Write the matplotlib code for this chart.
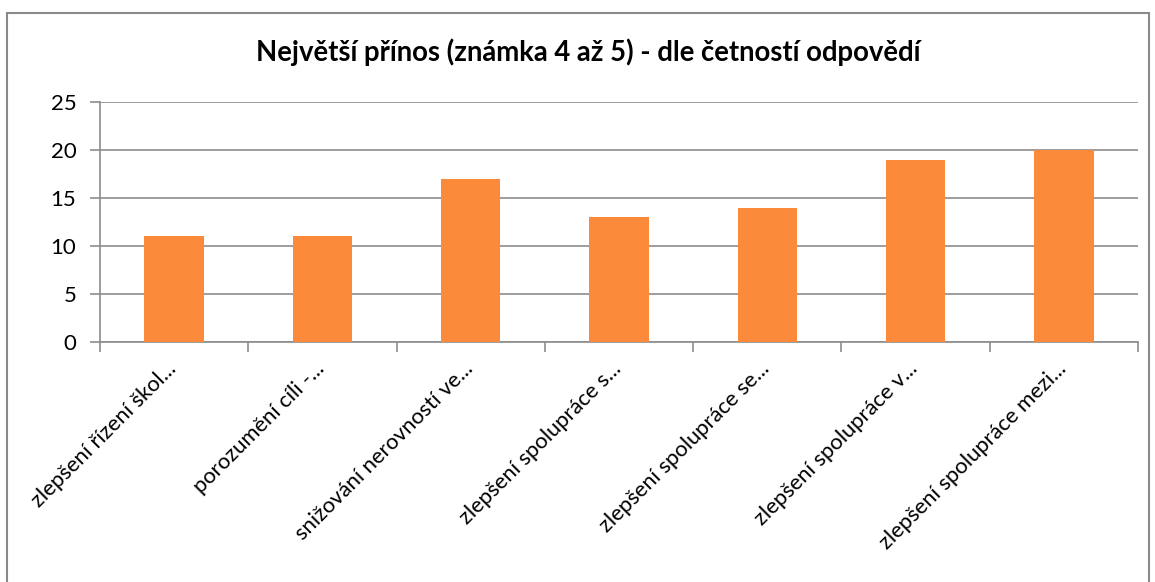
import matplotlib
matplotlib.use("Agg")
import matplotlib.pyplot as plt
from matplotlib.patches import Rectangle
from matplotlib.transforms import ScaledTranslation
import numpy as np

plt.rcParams["font.family"] = ["Lato", "DejaVu Sans"]

title = "Největší přínos (známka 4 až 5) - dle četností odpovědí"
categories = [
    "zlepšení řízení škol...",
    "porozumění cíli -...",
    "snižování nerovností ve...",
    "zlepšení spolupráce s...",
    "zlepšení spolupráce se...",
    "zlepšení spolupráce v...",
    "zlepšení spolupráce mezi...",
]
values = [11, 11, 17, 13, 14, 19, 20]
yticks = [0, 5, 10, 15, 20, 25]

BAR = "#FB8B3B"
GRID = "#8C8C8C"

W, H = 1155, 582
fig = plt.figure(figsize=(W / 100, H / 100), dpi=100)
fig.patch.set_facecolor("white")

# outer chart frame (bottom edge runs off the picture)
fig.patches.append(Rectangle((7 / W, -0.05), (1149 - 7) / W, 1.05 - 13 / H,
                             transform=fig.transFigure, fill=False,
                             edgecolor="#8A8A8A", lw=1.5, zorder=0))

ax = fig.add_axes([100 / W, 1 - 342 / H, (1138 - 100) / W, (342 - 102) / H])
x = np.arange(len(values))
ax.bar(x, values, width=0.4, color=BAR, zorder=3)

ax.set_xlim(-0.5, len(values) - 0.5)
ax.set_ylim(0, 25)
ax.set_yticks(yticks)
ax.set_yticklabels([str(v) for v in yticks], fontsize=16)
ax.yaxis.grid(True, color=GRID, lw=1.2, zorder=0)
ax.tick_params(axis="y", length=7, color=GRID, width=1.2, pad=10)

ax.set_xticks(np.arange(len(values) + 1) - 0.5, minor=True)
ax.set_xticks(x)
ax.set_xticklabels(categories, rotation=45, ha="right", va="top",
                   rotation_mode="anchor", fontsize=15.8)
ax.tick_params(axis="x", which="major", length=0, pad=12)
ax.tick_params(axis="x", which="minor", length=7, color=GRID, width=1.2)
shift = ScaledTranslation(-8 / 100, 0, fig.dpi_scale_trans)
for lab in ax.get_xticklabels():
    lab.set_transform(lab.get_transform() + shift)

for s in ["top", "right"]:
    ax.spines[s].set_visible(False)
for s in ["left", "bottom"]:
    ax.spines[s].set_color(GRID)
    ax.spines[s].set_linewidth(1.2)

fig.text(588 / W, 1 - 52 / H, title, ha="center", va="center",
         fontsize=19.8, fontweight="bold")

fig.savefig("out.png", dpi=100)
